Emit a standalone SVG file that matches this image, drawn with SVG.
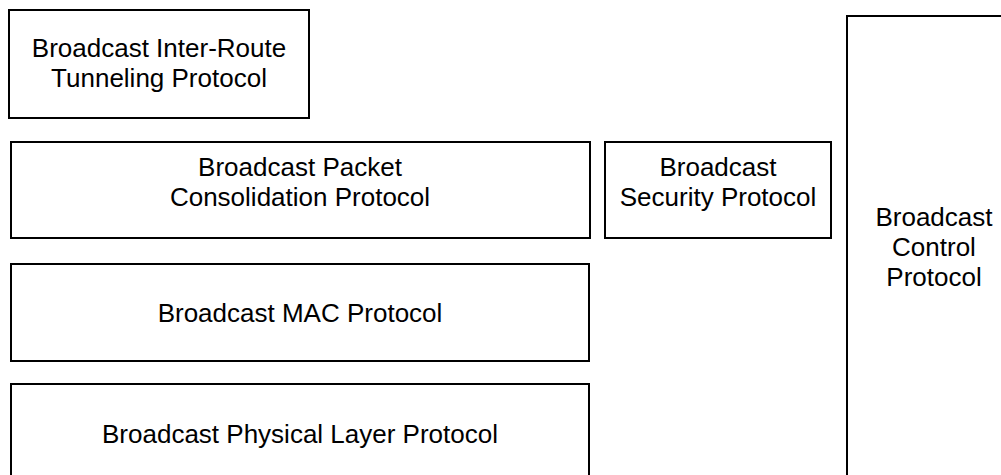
<svg xmlns="http://www.w3.org/2000/svg" width="1001" height="475" viewBox="0 0 1001 475">
  <style>
    .box { fill: #ffffff; stroke: #000000; stroke-width: 2; }
    .lbl { font-family: "Liberation Sans", Arial, sans-serif; font-size: 26px; fill: #000000; text-anchor: middle; }
  </style>
  <rect x="0" y="0" width="1001" height="475" fill="#ffffff"/>

  <g id="tunneling">
    <rect class="box" x="9" y="10" width="300" height="108"/>
    <text class="lbl" x="159" y="57">Broadcast Inter-Route</text>
    <text class="lbl" x="159" y="87">Tunneling Protocol</text>
  </g>

  <g id="consolidation">
    <rect class="box" x="11" y="142" width="579" height="96"/>
    <text class="lbl" x="300" y="176">Broadcast Packet</text>
    <text class="lbl" x="300" y="206">Consolidation Protocol</text>
  </g>

  <g id="security">
    <rect class="box" x="605" y="142" width="226" height="96"/>
    <text class="lbl" x="718" y="176">Broadcast</text>
    <text class="lbl" x="718" y="206">Security Protocol</text>
  </g>

  <g id="mac">
    <rect class="box" x="11" y="264" width="578" height="97"/>
    <text class="lbl" x="300" y="322">Broadcast MAC Protocol</text>
  </g>

  <g id="physical">
    <rect class="box" x="11" y="384" width="578" height="98"/>
    <text class="lbl" x="300" y="443">Broadcast Physical Layer Protocol</text>
  </g>

  <g id="control">
    <rect class="box" x="847" y="16" width="174" height="466"/>
    <text class="lbl" x="934" y="226">Broadcast</text>
    <text class="lbl" x="934" y="256">Control</text>
    <text class="lbl" x="934" y="286">Protocol</text>
  </g>

  <g id="connectors"></g>
</svg>
